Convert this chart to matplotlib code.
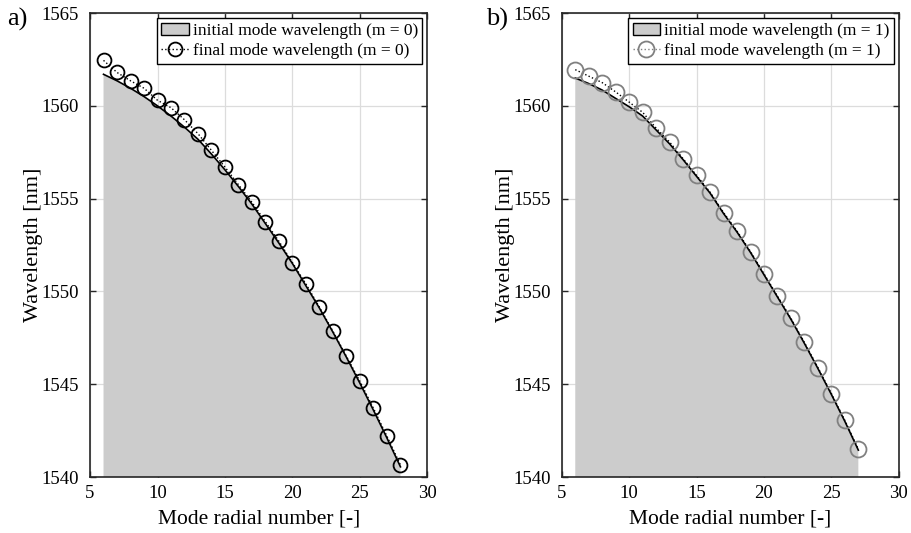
import numpy as np
import matplotlib
matplotlib.use("Agg")
import matplotlib.pyplot as plt

plt.rcParams['font.family'] = ['Liberation Serif', 'DejaVu Serif']
plt.rcParams['mathtext.fontset'] = 'stix'

# mode radial numbers
n_m0 = [6, 7, 8, 9, 10, 11, 12, 13, 14, 15, 16, 17, 18, 19, 20, 21, 22, 23, 24, 25, 26, 27, 28]
n_m1 = [6, 7, 8, 9, 10, 11, 12, 13, 14, 15, 16, 17, 18, 19, 20, 21, 22, 23, 24, 25, 26, 27]

# wavelengths [nm], m = 0
init_m0 = [1561.7, 1561.35, 1560.95, 1560.5, 1560.0, 1559.45, 1558.85, 1558.2, 1557.4, 1556.55,
           1555.65, 1554.7, 1553.65, 1552.6, 1551.5, 1550.3, 1549.1, 1547.8, 1546.45, 1545.05,
           1543.6, 1542.1, 1540.55]
final_m0 = [1562.45, 1561.8, 1561.35, 1560.95, 1560.3, 1559.9, 1559.25, 1558.5, 1557.6, 1556.7,
            1555.75, 1554.8, 1553.75, 1552.7, 1551.55, 1550.4, 1549.15, 1547.85, 1546.5, 1545.15,
            1543.7, 1542.2, 1540.65]

# wavelengths [nm], m = 1
init_m1 = [1561.5, 1561.2, 1560.85, 1560.4, 1559.95, 1559.45, 1558.7, 1557.95, 1557.1, 1556.2,
           1555.3, 1554.2, 1553.2, 1552.1, 1550.9, 1549.7, 1548.5, 1547.2, 1545.85, 1544.45,
           1543.0, 1541.45]
final_m1 = [1561.95, 1561.6, 1561.25, 1560.75, 1560.2, 1559.65, 1558.8, 1558.05, 1557.15, 1556.25,
            1555.35, 1554.25, 1553.25, 1552.15, 1550.95, 1549.75, 1548.55, 1547.25, 1545.9, 1544.5,
            1543.05, 1541.5]

fig = plt.figure(figsize=(9.12, 5.33), dpi=100)
ax1 = fig.add_axes([0.0987, 0.105, 0.370, 0.8705])
ax2 = fig.add_axes([0.616, 0.105, 0.3695, 0.8705])

panels = [
    (ax1, n_m0, init_m0, final_m0, 0, 'black', 10, 'a)'),
    (ax2, n_m1, init_m1, final_m1, 1, '#808080', 11.5, 'b)'),
]

for ax, n, init, final, m, mcol, msize, tag in panels:
    ax.set_axisbelow(True)
    ax.fill_between(n, init, 1540, facecolor='#cccccc', edgecolor='none', zorder=1)
    ax.plot(n, init, color='black', lw=1.2, zorder=2)
    ax.plot(n, final, color='black', ls=':', lw=1.0, zorder=3)
    ax.plot(n, final, ls='none', marker='o', ms=msize, mfc='none', mec=mcol, mew=1.3, zorder=4)

    # legend proxies
    h1 = plt.Rectangle((0, 0), 1, 1, facecolor='#cccccc', edgecolor='black', lw=1.0)
    h2, = ax.plot([], [], color=('black' if m == 0 else '#808080'), ls=':', lw=1.0,
                  marker='o', ms=msize, mfc='none', mec=mcol, mew=1.3)
    leg = ax.legend([h1, h2], [f'initial mode wavelength (m = {m})', f'final mode wavelength (m = {m})'],
                    loc='upper right', fontsize=12.5, fancybox=False, framealpha=1,
                    edgecolor='black', borderpad=0.25, labelspacing=0.25, handlelength=1.6,
                    handletextpad=0.2, borderaxespad=0.3)
    leg.get_frame().set_linewidth(1.0)

    ax.set_xlim(5, 30)
    ax.set_ylim(1540, 1565)
    ax.set_xticks([5, 10, 15, 20, 25, 30])
    ax.set_yticks([1540, 1545, 1550, 1555, 1560, 1565])
    ax.grid(True, color='#dcdcdc', lw=0.9)
    ax.tick_params(direction='in', top=True, right=True, length=4, width=1.0,
                   labelsize=13.5, color='#262626')
    ax.tick_params(axis='y', pad=8)
    ax.tick_params(axis='x', pad=6)
    for sp in ax.spines.values():
        sp.set_linewidth(1.2)
        sp.set_color('#262626')
    ax.set_xlabel('Mode radial number [-]', fontsize=15.5, labelpad=5)
    ax.set_ylabel('Wavelength [nm]', fontsize=16, labelpad=-1)

fig.text(0.008, 0.963, 'a)', fontsize=19, va='center', ha='left')
fig.text(0.533, 0.963, 'b)', fontsize=19, va='center', ha='left')

fig.savefig('out.png', dpi=100)
